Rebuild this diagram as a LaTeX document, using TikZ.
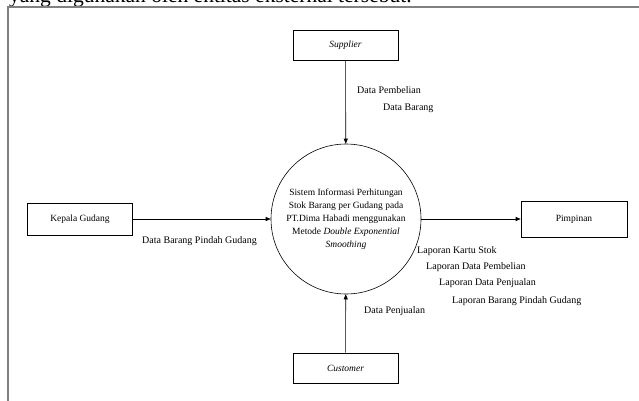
\documentclass[tikz,border=0pt]{standalone}
\usepackage{fontspec}
\setmainfont{Liberation Serif}
\usetikzlibrary{arrows.meta}

\begin{document}
\begin{tikzpicture}[x=1pt,y=-1pt,
  entity/.style={draw, line width=0.6pt, inner sep=0pt,
    minimum width=105pt, minimum height=30pt,
    font=\fontsize{9.5}{11}\selectfont},
  process/.style={draw, circle, line width=0.6pt, inner sep=0pt,
    minimum size=150pt, align=center,
    font=\fontsize{9.5}{13}\selectfont},
  flow/.style={-{Triangle[length=5pt,width=4pt]}, line width=0.6pt},
  lbl/.style={font=\fontsize{10}{11}\selectfont, anchor=west, inner sep=0pt},
  frameline/.style={draw=black!50, line width=1.5pt}]

  \useasboundingbox (0,0) rectangle (639,401);

  % page text above the figure frame
  \begin{scope}
    \clip (0,0) rectangle (639,401);
    \node[anchor=base west, inner sep=0pt, font=\fontsize{21.5}{24}\selectfont]
      (pagetext) at (9,3) {yang digunakan oleh entitas eksternal tersebut.};
  \end{scope}

  % figure frame
  \coordinate (fbl) at (8,402);
  \coordinate (ftl) at (8,7);
  \coordinate (ftr) at (640,7);
  \draw[frameline] (fbl) -- (ftl) -- (ftr);

  % external entities
  \node[entity] (sup) at (345.5,45) {\textit{Supplier}};
  \node[entity, minimum height=32pt] (kep) at (80,219) {Kepala Gudang};
  \node[entity, minimum width=106pt, minimum height=36pt] (pim) at (574,219) {Pimpinan};
  \node[entity] (cus) at (345.5,368) {\textit{Customer}};

  % central process
  \node[process] (proc) at (346,219) {Sistem Informasi Perhitungan\\
    Stok Barang per Gudang pada\\
    PT.Dima Habadi menggunakan\\
    Metode \textit{Double Exponential}\\
    \textit{Smoothing}};

  % data flows
  \draw[flow] (sup) -- (proc);
  \draw[flow] (kep) -- (proc);
  \draw[flow] (proc) -- (pim);
  \draw[flow] (cus) -- (proc);

  % flow labels
  \node[lbl] (l1) at (357,90) {Data Pembelian};
  \node[lbl] (l2) at (383,108) {Data Barang};
  \node[lbl] (l3) at (142,241) {Data Barang Pindah Gudang};
  \node[lbl] (l4) at (417,251) {Laporan Kartu Stok};
  \node[lbl] (l5) at (426,267) {Laporan Data Pembelian};
  \node[lbl] (l6) at (439,283) {Laporan Data Penjualan};
  \node[lbl] (l7) at (452,301) {Laporan Barang Pindah Gudang};
  \node[lbl] (l8) at (364,311) {Data Penjualan};
\end{tikzpicture}
\end{document}
